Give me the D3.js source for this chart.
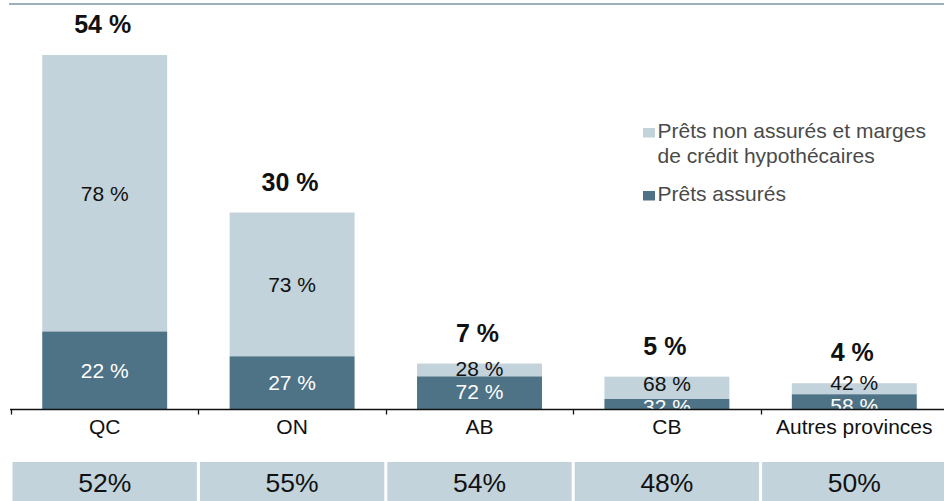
<!DOCTYPE html>
<html>
<head>
<meta charset="utf-8">
<script src="https://cdn.jsdelivr.net/npm/d3@7"></script>
<style>
  body { margin: 0; background: #fff; }
  svg { display: block; font-family: "Liberation Sans", Arial, sans-serif; }
</style>
</head>
<body>
<svg id="chart"></svg>
<script>
// chart data
const provinces = ["QC", "ON", "AB", "CB", "Autres provinces"];
const shares = [54, 30, 7, 5, 4];            // share of total (bar height)
const insured = [22, 27, 72, 32, 58];        // Prêts assurés (%)
const uninsured = [78, 73, 28, 68, 42];      // Prêts non assurés et marges (%)
const boxValues = [52, 55, 54, 48, 50];      // row of boxes under the chart
const legendLabels = ["Prêts non assurés et marges|de crédit hypothécaires", "Prêts assurés"];

const width = 944, height = 501;
const lightCol = "#c2d3db", darkCol = "#4e7286";
const baseY = 409.5;
const labelSize = 21;
const capShift = labelSize * 0.716 / 2;   // put the cap-height centre on the segment middle
const minGap = 23;                         // min distance between the two labels of a bar

const svg = d3.select("#chart").attr("width", width).attr("height", height);

// top rule
svg.append("line")
  .attr("x1", 9).attr("x2", width)
  .attr("y1", 4).attr("y2", 4)
  .attr("stroke", "#9db1bb").attr("stroke-width", 2.2);

const x = d3.scaleBand()
  .domain(provinces)
  .range([11, 948])
  .paddingInner(1 / 3)
  .paddingOuter(1 / 6);

const y = d3.scaleLinear()
  .domain([0, 54])
  .range([baseY, 55]);

const step = x.step();
const rows = provinces.map((p, i) => ({
  p, share: shares[i], ins: insured[i], unins: uninsured[i], box: boxValues[i]
}));

// stacked bars: insured at the bottom, uninsured on top
const g = svg.append("g");
rows.forEach(d => {
  const insTop = d.share * d.ins / 100;
  g.append("rect")
    .attr("x", x(d.p)).attr("width", x.bandwidth())
    .attr("y", y(d.share)).attr("height", y(insTop) - y(d.share))
    .attr("fill", lightCol);
  g.append("rect")
    .attr("x", x(d.p)).attr("width", x.bandwidth())
    .attr("y", y(insTop)).attr("height", y(0) - y(insTop))
    .attr("fill", darkCol);
});

// inner labels and totals
rows.forEach(d => {
  const insTop = d.share * d.ins / 100;
  const cx = x(d.p) + x.bandwidth() / 2;
  let yTop = (y(d.share) + y(insTop)) / 2 + capShift;
  let yBot = (y(insTop) + y(0)) / 2 + capShift;
  // small bars: push the two labels apart around their middle
  if (yBot - yTop < minGap) {
    const mid = (yTop + yBot) / 2 - 1;
    yTop = mid - minGap / 2;
    yBot = mid + minGap / 2;
  }
  g.append("text")
    .attr("x", cx).attr("y", yTop)
    .attr("text-anchor", "middle")
    .attr("font-size", labelSize).attr("fill", "#111")
    .text(d.unins + " %");
  g.append("text")
    .attr("x", cx).attr("y", yBot)
    .attr("text-anchor", "middle")
    .attr("font-size", labelSize).attr("fill", "#fff")
    .text(d.ins + " %");
  g.append("text")
    .attr("x", cx - 2).attr("y", y(d.share) - 22)
    .attr("text-anchor", "middle")
    .attr("font-size", 25).attr("font-weight", "bold").attr("fill", "#111")
    .text(d.share + " %");
});

// x axis
const axisG = svg.append("g");
// white strip under the axis hides label parts that fall below the baseline
axisG.append("rect")
  .attr("x", 0).attr("width", width)
  .attr("y", baseY + 0.75).attr("height", 8)
  .attr("fill", "#fff");
axisG.append("line")
  .attr("x1", 10).attr("x2", width)
  .attr("y1", baseY).attr("y2", baseY)
  .attr("stroke", "#111").attr("stroke-width", 1.5);
provinces.forEach(p => {
  const tx = Math.round(x(p) - step / 6) + 0.5;
  axisG.append("line")
    .attr("x1", tx).attr("x2", tx)
    .attr("y1", baseY).attr("y2", baseY + 5)
    .attr("stroke", "#111").attr("stroke-width", 1.3);
  axisG.append("text")
    .attr("x", x(p) + x.bandwidth() / 2).attr("y", 434)
    .attr("text-anchor", "middle").attr("font-size", 21).attr("fill", "#111")
    .text(p);
});

// boxes under the chart
rows.forEach(d => {
  const left = x(d.p) - step / 6;
  svg.append("rect")
    .attr("x", left + 1.5).attr("width", step - 3)
    .attr("y", 462).attr("height", 40)
    .attr("fill", lightCol);
  svg.append("text")
    .attr("x", left + step / 2).attr("y", 491.5)
    .attr("text-anchor", "middle")
    .attr("font-size", 26.5).attr("fill", "#111")
    .text(d.box + "%");
});

// legend
const legend = svg.append("g").attr("transform", "translate(643,0)");
const legendY = [138, 201];
legendLabels.forEach((lab, i) => {
  legend.append("rect")
    .attr("x", 0).attr("y", legendY[i] - 10)
    .attr("width", 12).attr("height", 9.5)
    .attr("fill", i === 0 ? lightCol : darkCol);
  lab.split("|").forEach((line, j) => {
    legend.append("text")
      .attr("x", 14.5).attr("y", legendY[i] + j * 25)
      .attr("font-size", 21).attr("fill", "#4a4a4a")
      .text(line);
  });
});
</script>
</body>
</html>
